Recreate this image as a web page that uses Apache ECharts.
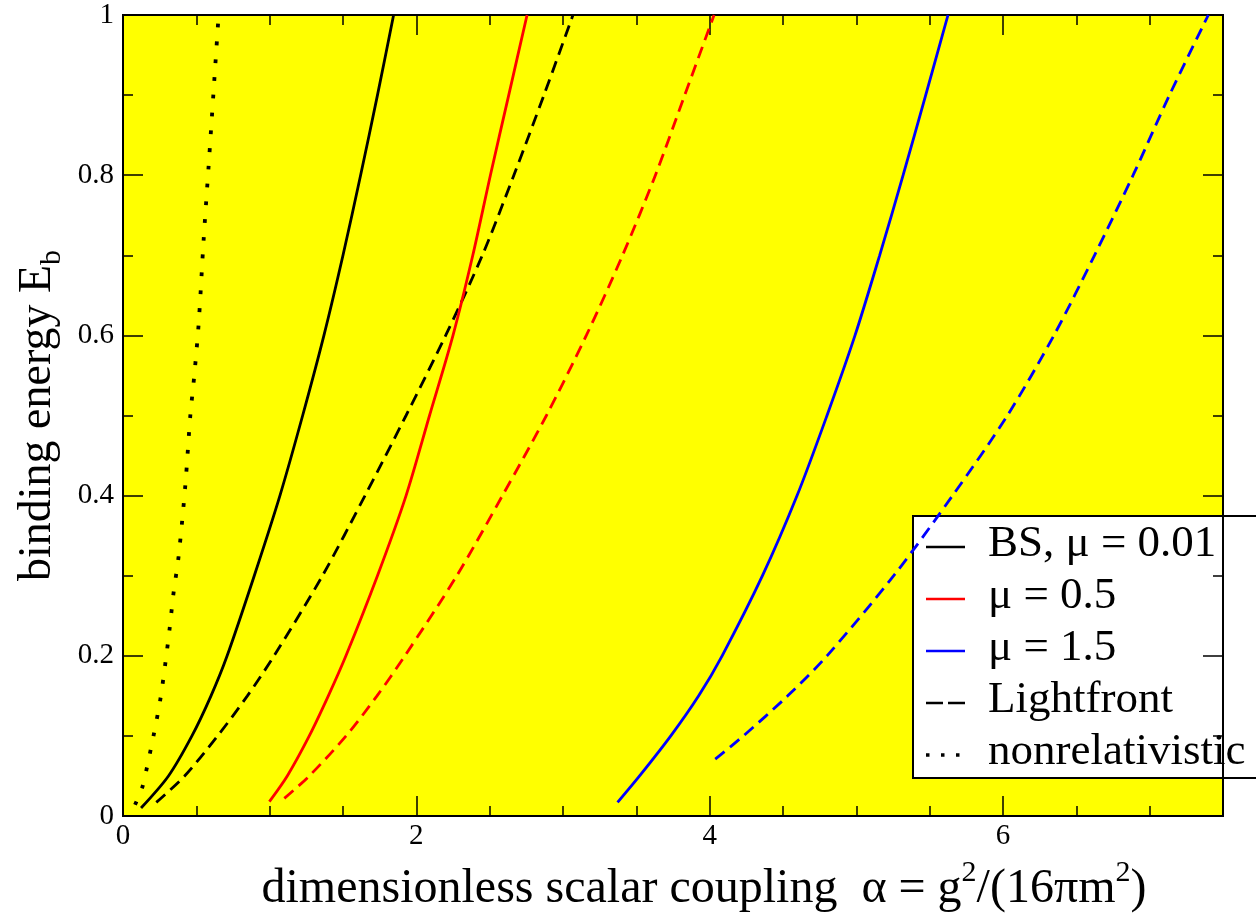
<!DOCTYPE html>
<html>
<head>
<meta charset="utf-8">
<script src="https://cdn.jsdelivr.net/npm/echarts@6/dist/echarts.min.js"></script>
<style>
html,body{margin:0;padding:0;background:#fff}
#chart{width:1256px;height:918px}
</style>
</head>
<body>
<div id="chart"></div>
<script>
// values: [alpha, E_b]
var nonRel = [[0.082,0.014],[0.13,0.035],[0.159,0.057],[0.209,0.101],[0.254,0.145],[0.289,0.191],[0.318,0.234],[0.345,0.279],[0.379,0.324],[0.425,0.413],[0.459,0.5],[0.486,0.55],[0.516,0.615],[0.55,0.72],[0.584,0.812],[0.618,0.906],[0.652,1.0]];
var bsMu001 = [[0.123,0.01],[0.31,0.05],[0.47,0.1],[0.6,0.15],[0.71,0.2],[0.895,0.3],[1.07,0.4],[1.225,0.5],[1.37,0.6],[1.5,0.7],[1.62,0.8],[1.735,0.9],[1.845,1.0]];
var lfMu001 = [[0.227,0.017],[0.42,0.05],[0.645,0.1],[0.848,0.15],[1.03,0.2],[1.36,0.3],[1.65,0.4],[1.93,0.5],[2.2,0.6],[2.45,0.7],[2.665,0.8],[2.87,0.9],[3.068,1.0]];
var bsMu05 = [[0.998,0.018],[1.12,0.05],[1.27,0.1],[1.4,0.15],[1.52,0.2],[1.735,0.3],[1.93,0.4],[2.09,0.5],[2.25,0.6],[2.385,0.7],[2.505,0.8],[2.63,0.9],[2.755,1.0]];
var lfMu05 = [[1.1,0.022],[1.27,0.05],[1.521,0.1],[1.732,0.15],[1.922,0.2],[2.276,0.3],[2.587,0.4],[2.887,0.5],[3.159,0.6],[3.406,0.7],[3.63,0.8],[3.83,0.9],[4.03,1.0]];
var bsMu15 = [[3.372,0.017],[3.522,0.05],[3.735,0.1],[3.925,0.15],[4.085,0.2],[4.36,0.3],[4.596,0.4],[4.8,0.5],[4.991,0.6],[5.159,0.7],[5.319,0.8],[5.473,0.9],[5.625,1.0]];
var lfMu15 = [[4.038,0.071],[4.23,0.1],[4.532,0.15],[4.8,0.2],[5.255,0.3],[5.656,0.4],[6.03,0.5],[6.347,0.6],[6.624,0.7],[6.887,0.8],[7.135,0.9],[7.4,1.0]];

var xMajorTicks = 2, xMinorTicks = 0.5, xMax = 7.5;
var yMajorTicks = 0.2, yMax = 1;
var legendLabels = ['BS, μ = 0.01', 'μ = 0.5', 'μ = 1.5', 'Lightfront', 'nonrelativistic'];

var serif = '"Liberation Serif", "Times New Roman", "DejaVu Serif", serif';
var chart = echarts.init(document.getElementById('chart'), null, {renderer: 'canvas'});

function curve(name, data, color, dash, width) {
  return {
    name: name, type: 'line', data: data,
    xAxisIndex: 0, yAxisIndex: 0,
    showSymbol: false, smooth: 0.3, silent: true, z: 3,
    lineStyle: {color: color, width: width || 2.8, type: dash, cap: 'butt'}
  };
}

function majorX(pos, withLabel) {
  return {
    type: 'value', gridIndex: 0, position: pos, min: 0, max: xMax, interval: xMajorTicks,
    axisLine: {show: true, onZero: false, lineStyle: {color: '#000', width: 2}},
    axisTick: {show: true, inside: true, length: 20, lineStyle: {color: '#000', width: 1.5}},
    splitLine: {show: false},
    axisLabel: {
      show: withLabel, margin: 6, color: '#000', fontFamily: serif, fontSize: 29,
      formatter: function (v) { return v % 2 === 0 ? String(v) : ''; }
    }
  };
}
function minorX(pos) {
  return {
    type: 'value', gridIndex: 1, position: pos, min: 0, max: xMax, interval: xMinorTicks,
    axisLine: {show: false},
    axisTick: {show: true, inside: true, length: 10, lineStyle: {color: '#000', width: 1.5}},
    splitLine: {show: false}, axisLabel: {show: false}
  };
}
function sideY(pos, withLabel) {
  return {
    type: 'value', gridIndex: 0, position: pos, min: 0, max: yMax, interval: yMajorTicks,
    axisLine: {show: true, onZero: false, lineStyle: {color: '#000', width: 2}},
    axisTick: {show: true, inside: true, length: 20, lineStyle: {color: '#000', width: 1.5}},
    minorTick: {show: true, splitNumber: 2, length: 10, lineStyle: {color: '#000', width: 1.5}},
    splitLine: {show: false}, minorSplitLine: {show: false},
    axisLabel: {show: withLabel, margin: 9, color: '#000', fontFamily: serif, fontSize: 29}
  };
}

var xBottom = majorX('bottom', true);
xBottom.name = 'dimensionless scalar coupling  α = g{sup|2}/(16πm{sup|2})';
xBottom.nameLocation = 'middle';
xBottom.nameGap = 42;
xBottom.nameTextStyle = {
  color: '#000', fontFamily: serif, fontSize: 48, lineHeight: 62, padding: [0, 0, 0, 62],
  rich: {sup: {fontFamily: serif, fontSize: 30, color: '#000', verticalAlign: 'top', lineHeight: 24}}
};

var yLeft = sideY('left', true);
yLeft.name = 'binding energy E{sub|b}';
yLeft.nameLocation = 'middle';
yLeft.nameGap = 50;
yLeft.nameTextStyle = {
  color: '#000', fontFamily: serif, fontSize: 46, lineHeight: 58,
  rich: {sub: {fontFamily: serif, fontSize: 30, color: '#000', verticalAlign: 'bottom', lineHeight: 24}}
};

function legendBox() {
  var rows = [
    {color: '#000', dash: null, width: 2.5},
    {color: '#ff0000', dash: null, width: 2.5},
    {color: '#0000ff', dash: null, width: 2.5},
    {color: '#000', dash: [17, 5], width: 2.5},
    {color: '#000', dash: [3.5, 11.5], width: 3.5}
  ];
  var kids = [{
    type: 'rect', shape: {x: 913, y: 516, width: 360, height: 262},
    style: {fill: '#fff', stroke: '#000', lineWidth: 2}
  }];
  legendLabels.forEach(function (label, i) {
    var y = 547 + i * 52;
    kids.push({
      type: 'line', shape: {x1: 926, y1: y, x2: 965, y2: y},
      style: {stroke: rows[i].color, lineWidth: rows[i].width, lineDash: rows[i].dash, lineCap: 'butt'}
    });
    kids.push({
      type: 'text', x: 988, y: y - 3,
      style: {text: label, fill: '#000', fontFamily: serif, fontSize: 45, verticalAlign: 'middle', align: 'left'}
    });
  });
  return {type: 'group', z: 100, silent: true, children: kids};
}

var option = {
  animation: false,
  backgroundColor: '#ffffff',
  grid: [
    {left: 123, top: 15, right: 33, bottom: 102, containLabel: false, outerBoundsMode: 'none',
     show: true, backgroundColor: '#ffff00', borderColor: '#000', borderWidth: 2},
    {left: 123, top: 15, right: 33, bottom: 102, containLabel: false, outerBoundsMode: 'none', show: false}
  ],
  xAxis: [xBottom, majorX('top', false), minorX('bottom'), minorX('top')],
  yAxis: [yLeft, sideY('right', false),
    {type: 'value', gridIndex: 1, min: 0, max: yMax, show: false}],
  series: [
    curve('nonrelativistic', nonRel, '#000', [3.8, 14], 3.8),
    curve('BS, μ = 0.01', bsMu001, '#000', 'solid'),
    curve('Lightfront μ = 0.01', lfMu001, '#000', [12, 7]),
    curve('BS, μ = 0.5', bsMu05, '#ff0000', 'solid'),
    curve('Lightfront μ = 0.5', lfMu05, '#ff0000', [12, 7]),
    curve('BS, μ = 1.5', bsMu15, '#0000ff', 'solid'),
    curve('Lightfront μ = 1.5', lfMu15, '#0000ff', [12, 7])
  ],
  graphic: {elements: [legendBox()]}
};
chart.setOption(option);
</script>
</body>
</html>
